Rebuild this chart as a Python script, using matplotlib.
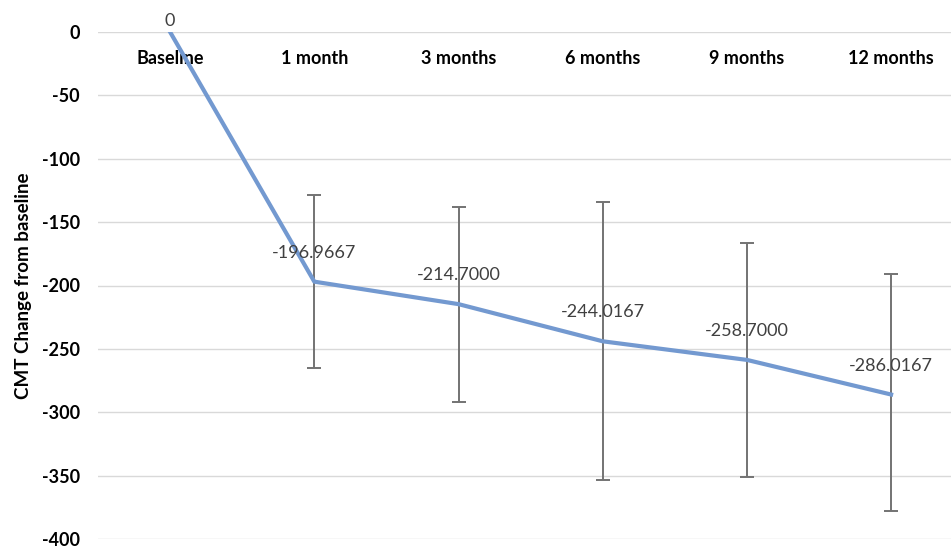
import matplotlib.pyplot as plt

plt.rcParams['font.family'] = ['Lato', 'DejaVu Sans']

# mean CMT change and error bar spread per visit
visits = ['Baseline', '1 month', '3 months', '6 months', '9 months', '12 months']
change = [0, -196.9667, -214.7000, -244.0167, -258.7000, -286.0167]
err_low = [0, 68, 77, 109.5, 92, 92]
err_high = [0, 68, 77, 109.5, 92, 95]
yticks = [0, -50, -100, -150, -200, -250, -300, -350, -400]

fig = plt.figure(figsize=(9.51, 5.48), dpi=100)
ax = fig.add_axes([98 / 951, 9 / 548, 853 / 951, 507 / 548])

x = list(range(len(visits)))

ax.errorbar(x[1:], change[1:], yerr=[err_low[1:], err_high[1:]], fmt='none',
            ecolor='#737373', elinewidth=1.4, capsize=5, capthick=1.4, zorder=2)
ax.plot(x, change, color='#7399d0', lw=3, solid_joinstyle='round', zorder=3)

for xi, v in zip(x, change):
    txt = '0' if v == 0 else f'{v:.4f}'
    dy = 2 if v == 0 else 15
    ax.annotate(txt, (xi, v), xytext=(0, dy), textcoords='offset points',
                ha='center', va='bottom', fontsize=13, color='#404040', zorder=4)

ax.set_ylim(-400, 0)
ax.set_xlim(-0.5, -0.5 + 853 / 144.2)
ax.set_yticks(yticks)
ax.set_yticklabels([str(t) for t in yticks], fontweight='bold', fontsize=13)
ax.yaxis.grid(True, color='#d9d9d9', lw=1)
ax.set_axisbelow(True)

# category labels sit just under the zero line
ax.spines['bottom'].set_position(('data', 0))
ax.set_xticks(x)
ax.set_xticklabels(visits, fontweight='bold', fontsize=13)
ax.tick_params(axis='x', length=0, pad=13)
ax.tick_params(axis='y', length=0, pad=13)
for s in ax.spines.values():
    s.set_visible(False)

ax.set_ylabel('CMT Change from baseline', fontweight='bold', fontsize=13.5)
ax.yaxis.set_label_coords(-0.077, 0.5)

fig.savefig('out.png', dpi=100)
